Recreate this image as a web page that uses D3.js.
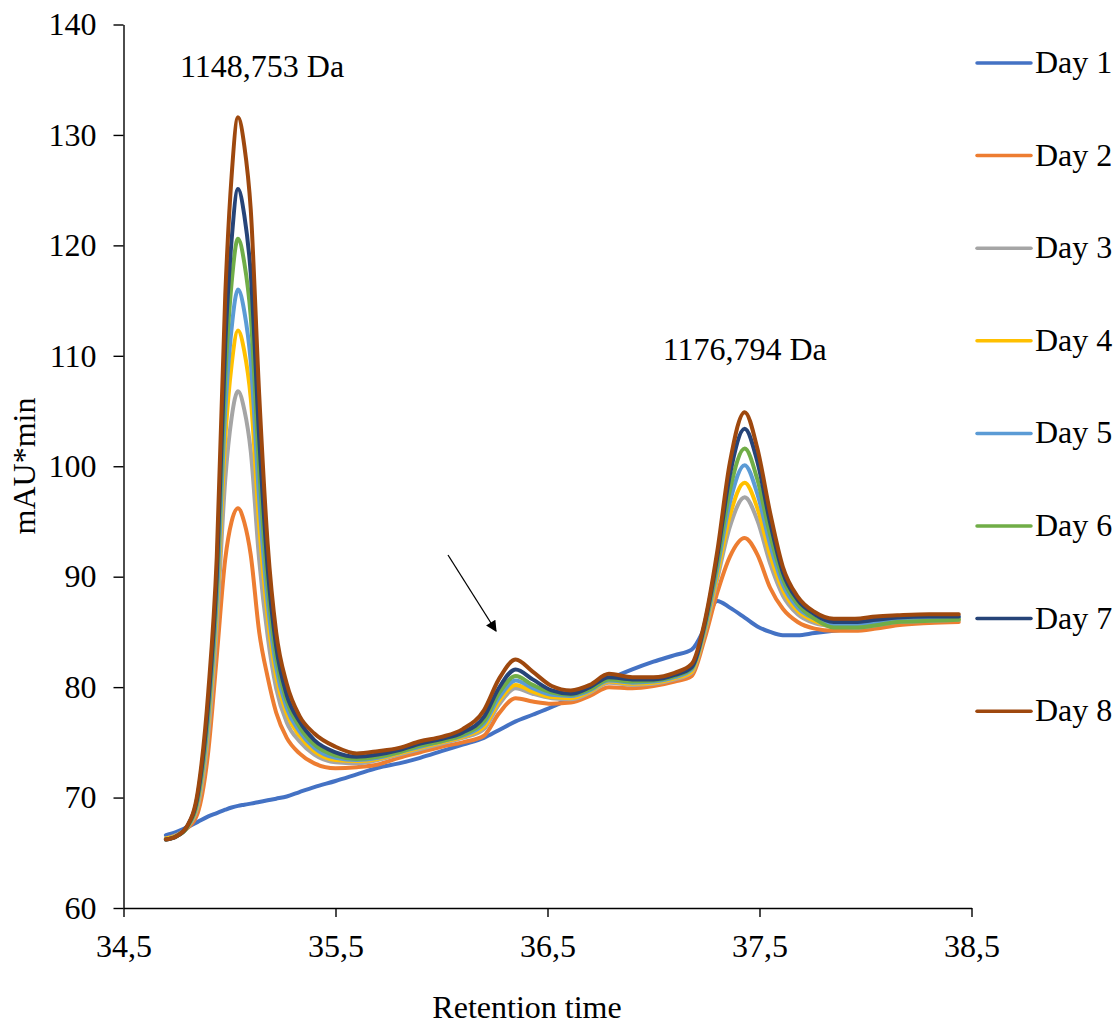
<!DOCTYPE html>
<html>
<head>
<meta charset="utf-8">
<script src="https://cdn.jsdelivr.net/npm/d3@7"></script>
<style>
  html, body { margin: 0; padding: 0; background: #fff; }
  svg { display: block; }
  text { font-family: "Times New Roman", "Liberation Serif", serif; fill: #000; }
</style>
</head>
<body>
<svg id="chart" width="1115" height="1028"></svg>
<script>
// Retention time grid (minutes)
const retentionTime = [34.70, 34.75, 34.80, 34.85, 34.90, 34.94, 34.98, 35.01, 35.04, 35.07,
  35.10, 35.14, 35.18, 35.22, 35.27, 35.33, 35.40, 35.50, 35.60, 35.70,
  35.80, 35.90, 36.00, 36.10, 36.20, 36.27, 36.35, 36.43, 36.52, 36.61,
  36.70, 36.79, 36.90, 37.00, 37.10, 37.18, 37.24, 37.30, 37.36, 37.43,
  37.49, 37.55, 37.61, 37.68, 37.76, 37.85, 37.95, 38.05, 38.15, 38.30, 38.44];

// Detector response (mAU*min) per day
const day1 = [66.6, 66.9, 67.3, 67.8, 68.3, 68.6, 68.9, 69.1, 69.25, 69.35,
  69.45, 69.6, 69.75, 69.9, 70.1, 70.5, 70.95, 71.5, 72.1, 72.7,
  73.1, 73.6, 74.2, 74.8, 75.4, 76.1, 76.9, 77.5, 78.2, 79.0,
  79.8, 80.7, 81.6, 82.3, 82.9, 83.4, 85.3, 87.8, 87.2, 86.3,
  85.5, 85.0, 84.7, 84.7, 84.9, 85.1, 85.3, 85.5, 85.7, 86.0, 86.2];
const day2 = [66.3, 66.6, 67.2, 68.6, 74.2, 82.8, 91.6, 95.0, 96.2, 94.9,
  92.0, 85.0, 80.9, 77.7, 75.4, 74.0, 73.1, 72.65, 72.75, 73.0,
  73.6, 74.1, 74.6, 75.0, 75.6, 77.6, 79.0, 78.7, 78.5, 78.6,
  79.2, 80.0, 79.9, 80.1, 80.5, 81.0, 84.3, 88.5, 91.8, 93.5,
  92.0, 89.0, 87.1, 85.9, 85.3, 85.1, 85.1, 85.3, 85.6, 85.8, 85.9];
const day3 = [66.3, 66.6, 67.3, 69.2, 75.8, 85.5, 98.8, 104.4, 106.8, 105.1,
  101.4, 91.5, 84.6, 79.9, 76.8, 75.1, 73.9, 73.2, 73.1, 73.4,
  73.9, 74.4, 74.9, 75.4, 76.2, 78.4, 79.9, 79.4, 79.0, 78.9,
  79.5, 80.4, 80.2, 80.3, 80.7, 81.3, 84.8, 89.7, 94.5, 97.2,
  95.1, 91.2, 88.3, 86.6, 85.8, 85.5, 85.4, 85.6, 85.9, 86.0, 86.1];
const day4 = [66.3, 66.55, 67.3, 69.5, 76.7, 86.9, 102.5, 109.2, 112.3, 110.4,
  106.2, 94.7, 86.4, 81.0, 77.6, 75.6, 74.2, 73.4, 73.3, 73.5,
  74.0, 74.5, 75.0, 75.5, 76.4, 78.7, 80.2, 79.6, 79.1, 79.0,
  79.6, 80.5, 80.3, 80.4, 80.8, 81.4, 85.0, 90.1, 95.5, 98.5,
  96.2, 92.0, 88.8, 86.9, 86.0, 85.5, 85.5, 85.7, 86.0, 86.1, 86.2];
const day5 = [66.2, 66.5, 67.3, 69.7, 77.2, 87.8, 105.0, 112.5, 116.0, 114.0,
  109.5, 97.0, 87.7, 81.8, 78.1, 76.0, 74.5, 73.6, 73.4, 73.6,
  74.1, 74.6, 75.1, 75.6, 76.7, 79.0, 80.6, 79.9, 79.3, 79.2,
  79.7, 80.6, 80.4, 80.5, 80.9, 81.6, 85.2, 90.6, 96.7, 100.1,
  97.5, 92.9, 89.3, 87.2, 86.2, 85.7, 85.7, 85.9, 86.1, 86.2, 86.3];
const day6 = [66.2, 66.5, 67.3, 69.9, 77.9, 89.0, 108.1, 116.6, 120.6, 118.4,
  113.6, 99.8, 89.2, 82.7, 78.7, 76.4, 74.8, 73.8, 73.5, 73.7,
  74.1, 74.7, 75.1, 75.7, 76.9, 79.4, 81.0, 80.2, 79.5, 79.3,
  79.8, 80.7, 80.5, 80.6, 81.0, 81.7, 85.4, 91.1, 97.8, 101.6,
  98.8, 93.8, 89.8, 87.5, 86.2, 85.4, 85.4, 85.6, 85.9, 86.0, 86.1];
const day7 = [66.2, 66.5, 67.4, 70.2, 78.6, 90.1, 111.1, 120.5, 125.1, 122.7,
  117.5, 102.6, 90.8, 83.7, 79.3, 76.9, 75.2, 74.1, 73.7, 73.9,
  74.3, 74.9, 75.3, 75.9, 77.3, 79.9, 81.6, 80.7, 79.7, 79.4,
  80.0, 80.9, 80.7, 80.7, 81.1, 81.8, 85.6, 91.7, 99.2, 103.4,
  100.4, 94.9, 90.4, 87.9, 86.6, 85.9, 85.9, 86.1, 86.3, 86.4, 86.4];
const day8 = [66.2, 66.5, 67.4, 70.5, 79.6, 91.8, 115.5, 126.3, 131.6, 129.0,
  123.3, 106.5, 93.0, 85.0, 80.3, 77.4, 75.8, 74.6, 74.0, 74.2,
  74.5, 75.1, 75.5, 76.2, 77.9, 80.7, 82.5, 81.4, 80.1, 79.7,
  80.2, 81.2, 80.9, 80.9, 81.3, 82.1, 85.8, 92.2, 100.3, 104.9,
  101.6, 95.8, 90.9, 88.2, 86.8, 86.2, 86.2, 86.4, 86.5, 86.6, 86.6];

const seriesNames = ["Day 1", "Day 2", "Day 3", "Day 4", "Day 5", "Day 6", "Day 7", "Day 8"];
const seriesValues = [day1, day2, day3, day4, day5, day6, day7, day8];
const seriesColors = ["#4472C4", "#ED7D31", "#A5A5A5", "#FFC000", "#5B9BD5", "#70AD47", "#264478", "#9E480E"];

const xTicks = [34.5, 35.5, 36.5, 37.5, 38.5];
const yTicks = [60, 70, 80, 90, 100, 110, 120, 130, 140];

// Peak annotations: [label, retention time, response]
const peakLabels = [["1148,753 Da", 35.04, 131.6], ["1176,794 Da", 37.43, 104.9]];

const svg = d3.select("#chart");
const plot = { left: 123.5, right: 971.5, top: 24.5, bottom: 908 };

const x = d3.scaleLinear().domain([34.5, 38.5]).range([plot.left, plot.right]);
const y = d3.scaleLinear().domain([60, 140]).range([plot.bottom, plot.top]);

const fontSize = 32;
const serif = '"Times New Roman", "Liberation Serif", serif';

// Y axis
const yAxis = svg.append("g")
  .attr("transform", `translate(${plot.left},0)`)
  .call(d3.axisLeft(y).tickValues(yTicks).tickSize(10).tickSizeOuter(0).tickPadding(17).tickFormat(d3.format("d")));
yAxis.select(".domain").attr("stroke", "#000").attr("stroke-width", 1.4);
yAxis.selectAll(".tick line").attr("stroke", "#000").attr("stroke-width", 1.4);
yAxis.selectAll(".tick text")
  .attr("font-size", fontSize)
  .attr("font-family", serif)
  .attr("fill", "#000");

// X axis
const fmtComma = d => d.toFixed(1).replace(".", ",");
const xAxis = svg.append("g")
  .attr("transform", `translate(0,${plot.bottom})`)
  .call(d3.axisBottom(x).tickValues(xTicks).tickSize(9).tickSizeOuter(0).tickPadding(17).tickFormat(fmtComma));
xAxis.select(".domain").attr("stroke", "#000").attr("stroke-width", 1.4);
xAxis.selectAll(".tick line").attr("stroke", "#000").attr("stroke-width", 1.4);
xAxis.selectAll(".tick text")
  .attr("font-size", fontSize)
  .attr("font-family", serif)
  .attr("fill", "#000");

// Axis titles
svg.append("text")
  .attr("x", 527).attr("y", 1018)
  .attr("text-anchor", "middle")
  .attr("font-size", fontSize)
  .text("Retention time");

svg.append("text")
  .attr("transform", "translate(35,466) rotate(-90)")
  .attr("text-anchor", "middle")
  .attr("font-size", fontSize)
  .text("mAU*min");

// Chromatogram traces
const line = d3.line()
  .x((d, i) => x(retentionTime[i]))
  .y(d => y(d))
  .curve(d3.curveMonotoneX);

svg.append("g").selectAll("path")
  .data(seriesValues)
  .join("path")
  .attr("d", d => line(d))
  .attr("fill", "none")
  .attr("stroke", (d, i) => seriesColors[i])
  .attr("stroke-width", 4)
  .attr("stroke-linejoin", "round")
  .attr("stroke-linecap", "round");

// Peak mass labels
svg.append("text")
  .attr("x", x(peakLabels[0][1]) - 58).attr("y", y(peakLabels[0][2]) - 40)
  .attr("font-size", fontSize)
  .text(peakLabels[0][0]);
svg.append("text")
  .attr("x", x(peakLabels[1][1]) - 82).attr("y", y(peakLabels[1][2]) - 52)
  .attr("font-size", fontSize)
  .text(peakLabels[1][0]);

// Arrow pointing at the intermediate shoulder
const defs = svg.append("defs");
defs.append("marker")
  .attr("id", "arrowHead")
  .attr("viewBox", "0 0 10 10")
  .attr("refX", 9).attr("refY", 5)
  .attr("markerWidth", 14).attr("markerHeight", 11)
  .attr("markerUnits", "userSpaceOnUse")
  .attr("orient", "auto")
  .append("path")
  .attr("d", "M0,0 L10,5 L0,10 Z")
  .attr("fill", "#000");

svg.append("line")
  .attr("x1", 448).attr("y1", 555)
  .attr("x2", 496).attr("y2", 631)
  .attr("stroke", "#000")
  .attr("stroke-width", 1.3)
  .attr("marker-end", "url(#arrowHead)");

// Legend
const legend = svg.append("g");
const legendItems = legend.selectAll("g")
  .data(seriesNames)
  .join("g")
  .attr("transform", (d, i) => `translate(977,${63 + i * 92.6})`);
legendItems.append("line")
  .attr("x1", 0).attr("x2", 54)
  .attr("y1", 0).attr("y2", 0)
  .attr("stroke", (d, i) => seriesColors[i])
  .attr("stroke-width", 3.5)
  .attr("stroke-linecap", "round");
legendItems.append("text")
  .attr("x", 58).attr("y", 10)
  .attr("font-size", fontSize)
  .text(d => d);
</script>
</body>
</html>
